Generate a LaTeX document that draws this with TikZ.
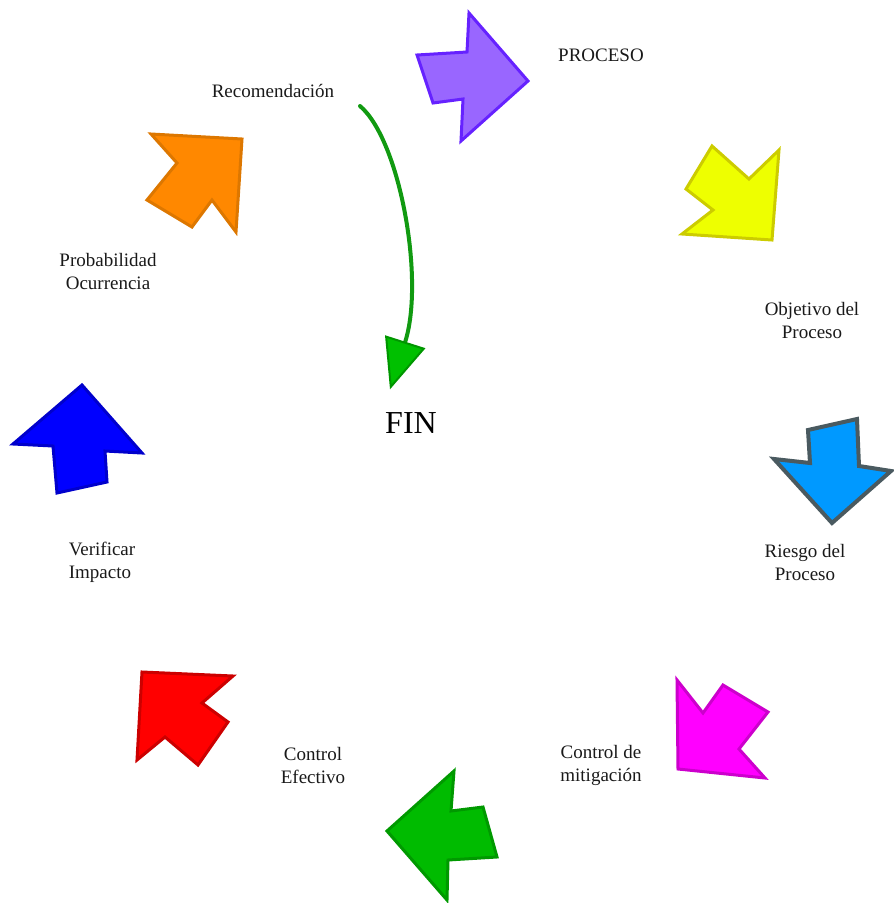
\documentclass[tikz,border=0pt]{standalone}
\usepackage{fontspec}
\setmainfont{Liberation Serif}
\usepackage{tikz}
\usepackage{xcolor}
\usetikzlibrary{arrows.meta}
\definecolor{flowgreen}{HTML}{119A11}
\definecolor{purplefill}{HTML}{9966FF}
\definecolor{purpleline}{HTML}{6622FF}
\tikzset{
    step-label/.style = {align=center, font=\fontsize{19}{23}\selectfont, text=black!90, inner sep=0pt},
    block-arrow/.style = {line width=3pt, line join=miter},
}

\begin{document}
\begin{tikzpicture}[x=1pt, y=-1pt]
\useasboundingbox (0,0) rectangle (894,903);
% arrows round the cycle
\draw[block-arrow, fill=purplefill, draw=purpleline] (417,55) -- (467,52) -- (469,13) -- (528,81) -- (461,141) -- (463,99) -- (433,103) -- cycle;
\draw[block-arrow, fill={rgb,255:red,238;green,255;blue,0}, draw={rgb,255:red,204;green,204;blue,0}] (712,146) -- (749,179) -- (779,150) -- (772,240) -- (682,234) -- (713,210) -- (686,189) -- cycle;
\draw[block-arrow, line width=4pt, fill={rgb,255:red,0;green,153;blue,255}, draw={rgb,255:red,74;green,90;blue,96}] (808,430) -- (857,419) -- (859,466) -- (891,471) -- (832,523) -- (774,459) -- (810,463) -- cycle;
\draw[block-arrow, fill={rgb,255:red,255;green,0;blue,255}, draw={rgb,255:red,204;green,0;blue,204}] (677,680) -- (703,713) -- (723,685) -- (768,712) -- (739,749) -- (765,778) -- (678,769) -- cycle;
\draw[block-arrow, fill={rgb,255:red,0;green,187;blue,0}, draw={rgb,255:red,0;green,153;blue,0}] (387,831) -- (454,771) -- (451,811) -- (483,807) -- (497,857) -- (448,860) -- (447,900) -- cycle;
\draw[block-arrow, fill={rgb,255:red,255;green,0;blue,0}, draw={rgb,255:red,204;green,0;blue,0}] (142,672) -- (233,676) -- (202,703) -- (228,722) -- (198,765) -- (165,737) -- (137,760) -- cycle;
\draw[block-arrow, fill={rgb,255:red,0;green,0;blue,255}, draw={rgb,255:red,0;green,0;blue,204}] (82,385) -- (142,453) -- (105,451) -- (107,482) -- (57,493) -- (53,446) -- (13,444) -- cycle;
\draw[block-arrow, fill={rgb,255:red,255;green,136;blue,0}, draw={rgb,255:red,221;green,119;blue,0}] (151,134) -- (242,139) -- (236,232) -- (212,200) -- (192,227) -- (147,200) -- (177,163) -- cycle;

% labels
\node[step-label] (reco) at (273,91) {Recomendación};
\node[step-label] (proceso) at (601,55) {PROCESO};
\node[step-label] (objetivo) at (812,320) {Objetivo del\\Proceso};
\node[step-label] (riesgo) at (805,562) {Riesgo del\\Proceso};
\node[step-label] (mitigacion) at (601,765) {Control de\\mitigación};
\node[step-label] (efectivo) at (313,765) {Control\\Efectivo};
\node[step-label, align=left] (verificar) at (102,562) {Verificar\\Impacto};
\node[step-label] (probabilidad) at (108,271) {Probabilidad\\Ocurrencia};
\node[step-label, font=\fontsize{32}{36}\selectfont, text=black] (fin) at (411,423) {FIN};

% closing arrow
\coordinate (loop-start) at (360,106);
\draw[flowgreen, line width=4pt, line cap=round,
      -{Triangle[length=50pt, width=42pt, fill={rgb,255:red,0;green,192;blue,0}, color={rgb,255:red,0;green,150;blue,0}, line width=2pt]}]
    (loop-start) .. controls (400,140) and (425,280) .. ([xshift=-21pt, yshift=23pt]fin.north);
\end{tikzpicture}
\end{document}
